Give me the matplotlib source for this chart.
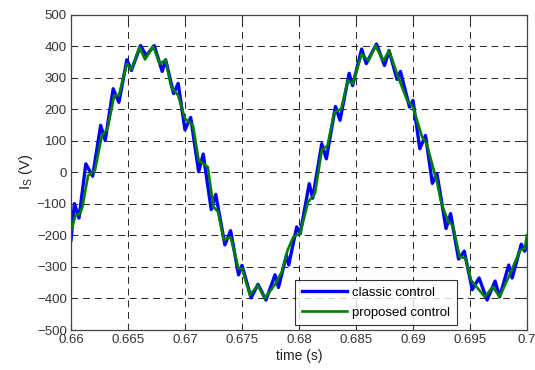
import matplotlib
matplotlib.use('Agg')
import matplotlib.pyplot as plt

# stator current, classic controller (time in s, current in V-scale units)
t_classic = [0.6600, 0.6603, 0.6607, 0.6613, 0.6619, 0.6626, 0.6630, 0.6637, 0.6642,
             0.6649, 0.6653, 0.6661, 0.6666, 0.6673, 0.6680, 0.6683, 0.6690, 0.6694,
             0.6700, 0.6705, 0.6712, 0.6716, 0.6723, 0.6727, 0.6735, 0.6740, 0.6747,
             0.6750, 0.6758, 0.6764, 0.6771, 0.6779, 0.6782, 0.6789, 0.6791, 0.6798,
             0.6801, 0.6809, 0.6812, 0.6820, 0.6824, 0.6832, 0.6836, 0.6844, 0.6847,
             0.6855, 0.6859, 0.6868, 0.6875, 0.6879, 0.6886, 0.6889, 0.6897, 0.6900,
             0.6906, 0.6911, 0.6917, 0.6921, 0.6929, 0.6933, 0.6940, 0.6945, 0.6952,
             0.6958, 0.6965, 0.6972, 0.6976, 0.6984, 0.6987, 0.6995, 0.6998, 0.7000]
i_classic = [-215, -99, -145, 27, -12, 149, 101, 265, 222,
             357, 323, 402, 370, 402, 320, 357, 250, 282,
             135, 174, 2, 58, -118, -70, -230, -185, -325,
             -295, -398, -355, -405, -325, -365, -263, -294, -173,
             -195, -36, -82, 91, 43, 209, 165, 314, 275,
             391, 345, 407, 339, 386, 295, 320, 207, 228,
             75, 117, -35, -4, -178, -131, -275, -250, -372,
             -335, -405, -345, -395, -294, -335, -228, -250, -232]

# stator current, proposed controller
t_proposed = [0.6600, 0.6604, 0.6608, 0.6610, 0.6615, 0.6621, 0.6627, 0.6632, 0.6638,
              0.6642, 0.6649, 0.6653, 0.6660, 0.6665, 0.6672, 0.6678, 0.6683, 0.6688,
              0.6694, 0.6700, 0.6707, 0.6712, 0.6720, 0.6725, 0.6729, 0.6734, 0.6740,
              0.6747, 0.6750, 0.6757, 0.6764, 0.6770, 0.6779, 0.6785, 0.6790, 0.6795,
              0.6801, 0.6808, 0.6814, 0.6820, 0.6825, 0.6831, 0.6837, 0.6843, 0.6847,
              0.6855, 0.6861, 0.6867, 0.6874, 0.6879, 0.6887, 0.6895, 0.6900, 0.6908,
              0.6912, 0.6921, 0.6925, 0.6931, 0.6935, 0.6941, 0.6946, 0.6951, 0.6963,
              0.6970, 0.6976, 0.6984, 0.6994, 0.6998, 0.7000]
i_proposed = [-185, -136, -131, -110, -10, 6, 115, 138, 244,
              244, 344, 326, 397, 358, 400, 344, 357, 270,
              244, 170, 149, 38, 17, -110, -125, -215, -205,
              -305, -305, -389, -358, -400, -355, -315, -247, -205,
              -194, -94, -67, 70, 85, 191, 201, 291, 280,
              375, 354, 402, 354, 386, 302, 228, 207, 112,
              91, -30, -99, -157, -168, -268, -272, -342, -395,
              -363, -395, -331, -247, -242, -199]

xticks = [0.66, 0.665, 0.67, 0.675, 0.68, 0.685, 0.69, 0.695, 0.7]
xtick_labels = ['0.66', '0.665', '0.67', '0.675', '0.68', '0.685', '0.69', '0.695', '0.7']
yticks = [-500, -400, -300, -200, -100, 0, 100, 200, 300, 400, 500]

plt.rcParams['font.family'] = ['Liberation Sans', 'DejaVu Sans']
plt.rcParams['mathtext.fontset'] = 'custom'
plt.rcParams['mathtext.rm'] = 'Liberation Sans'
plt.rcParams['mathtext.it'] = 'Liberation Sans'

fig = plt.figure(figsize=(5.35, 3.7), dpi=100)
ax = fig.add_axes([0.1327, 0.1081, 0.985 - 0.1327, 0.9603 - 0.1081])

ax.plot(t_classic, i_classic, color='#0000ff', lw=2.4, label='classic control',
        solid_joinstyle='round')
ax.plot(t_proposed, i_proposed, color='#008000', lw=1.9, label='proposed control',
        solid_joinstyle='round')

ax.set_xlim(0.66, 0.7)
ax.set_ylim(-500, 500)
ax.set_xticks(xticks)
ax.set_xticklabels(xtick_labels)
ax.set_yticks(yticks)
ax.tick_params(direction='in', top=True, right=True, labelsize=9.5, length=4,
               colors='#333333', pad=3)
ax.grid(True, color='#222222', linestyle=(0, (7, 5)), linewidth=0.7)
for s in ax.spines.values():
    s.set_color('#444444')
    s.set_linewidth(0.9)

ax.set_xlabel('time (s)', fontsize=10, labelpad=2, color='#222222')
ax.set_ylabel(r'I$_\mathregular{S}$ (V)', fontsize=10.5, labelpad=1, color='#222222')

leg = ax.legend(loc='lower left', bbox_to_anchor=(0.4914, 0.0145), fontsize=9.5,
                frameon=True, fancybox=False, handlelength=3.4, borderpad=0.5,
                labelspacing=0.6, handletextpad=0.45, borderaxespad=0)
leg.get_frame().set_edgecolor('black')
leg.get_frame().set_linewidth(0.8)

fig.savefig('out.png', dpi=100)
